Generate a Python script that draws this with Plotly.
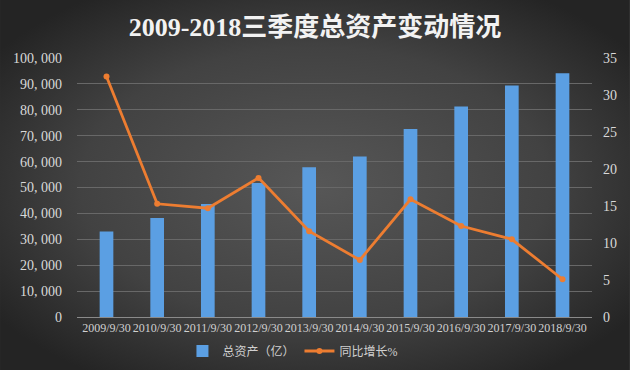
import base64
import plotly.graph_objects as go

categories = ["2009/9/30", "2010/9/30", "2011/9/30", "2012/9/30", "2013/9/30",
              "2014/9/30", "2015/9/30", "2016/9/30", "2017/9/30", "2018/9/30"]
total_assets = [33000, 38200, 43600, 51700, 57800, 62000, 72600, 81300, 89400, 94100]
yoy_growth = [32.5, 15.3, 14.7, 18.8, 11.6, 7.7, 15.9, 12.3, 10.5, 5.1]
left_ticks = [0, 10000, 20000, 30000, 40000, 50000, 60000, 70000, 80000, 90000, 100000]
left_tick_text = ["0", "10, 000", "20, 000", "30, 000", "40, 000", "50, 000",
                  "60, 000", "70, 000", "80, 000", "90, 000", "100, 000"]
right_ticks = [0, 5, 10, 15, 20, 25, 30, 35]

W, H = 630, 370
ml, mr, mt, mb = 77, 37.5, 58, 53
pw, ph = W - ml - mr, H - mt - mb

svg = ("<svg xmlns='http://www.w3.org/2000/svg' width='630' height='370'>"
       "<defs><radialGradient id='g' cx='50%' cy='50%' r='62%'>"
       "<stop offset='0' stop-color='#575757'/>"
       "<stop offset='0.6' stop-color='#424242'/>"
       "<stop offset='1' stop-color='#242424'/></radialGradient></defs>"
       "<rect width='630' height='370' fill='url(#g)'/></svg>")
bg_uri = "data:image/svg+xml;base64," + base64.b64encode(svg.encode()).decode()

font_fam = "Liberation Serif, Noto Sans CJK SC, serif"

fig = go.Figure()
fig.add_trace(go.Bar(
    x=categories, y=total_assets, name="总资产（亿）",
    marker=dict(color="#5b9fe3", line=dict(width=0)),
    width=0.27,
))
fig.add_trace(go.Scatter(
    x=categories, y=yoy_growth, name="同比增长%", yaxis="y2",
    mode="lines+markers",
    line=dict(color="#ed7d31", width=2.8),
    marker=dict(color="#ed7d31", size=6),
))

fig.update_layout(
    width=W, height=H, autosize=False,
    margin=dict(l=ml, r=mr, t=mt, b=mb, autoexpand=False),
    paper_bgcolor="#333333",
    plot_bgcolor="rgba(0,0,0,0)",
    images=[dict(source=bg_uri, xref="paper", yref="paper",
                 x=-ml / pw, y=1 + mt / ph, sizex=W / pw, sizey=H / ph,
                 sizing="stretch", layer="below", xanchor="left", yanchor="top")],
    title=dict(text="<b>2009-2018三季度总资产变动情况</b>", x=0.5, xref="container",
               xanchor="center", y=1 - 27 / H, yanchor="middle",
               font=dict(family=font_fam, size=26, color="#f2f2f2")),
    font=dict(family=font_fam, color="#d9d9d9"),
    xaxis=dict(
        tickfont=dict(size=12, color="#d0d0d0"),
        showgrid=False, showline=True, linecolor="#8a8a8a", linewidth=1,
        ticks="", tickangle=0,
    ),
    yaxis=dict(
        range=[0, 100000], tickvals=left_ticks, ticktext=left_tick_text,
        tickfont=dict(size=14, color="#d9d9d9"),
        showgrid=True, gridcolor="#686868", gridwidth=1,
        zeroline=False, showline=False, ticks="", ticklabelstandoff=14,
    ),
    yaxis2=dict(
        range=[0, 35], tickvals=right_ticks, overlaying="y", side="right",
        tickfont=dict(size=14, color="#d9d9d9"),
        showgrid=False, zeroline=False, showline=False, ticks="",
        ticklabelstandoff=10,
    ),
    legend=dict(orientation="h", xref="container", x=0.465, xanchor="center",
                yref="container", y=1 - 351 / H, yanchor="middle",
                font=dict(size=12, color="#d0d0d0"),
                bgcolor="rgba(0,0,0,0)", itemwidth=30, tracegroupgap=0),
    showlegend=True,
)

fig.write_html(
    "out.html",
    config={"displayModeBar": False, "responsive": False},
    default_width="630px",
    default_height="370px",
    post_script="document.body.style.margin='0';document.body.style.overflow='hidden';document.body.style.background='#2a2a2a';",
)
